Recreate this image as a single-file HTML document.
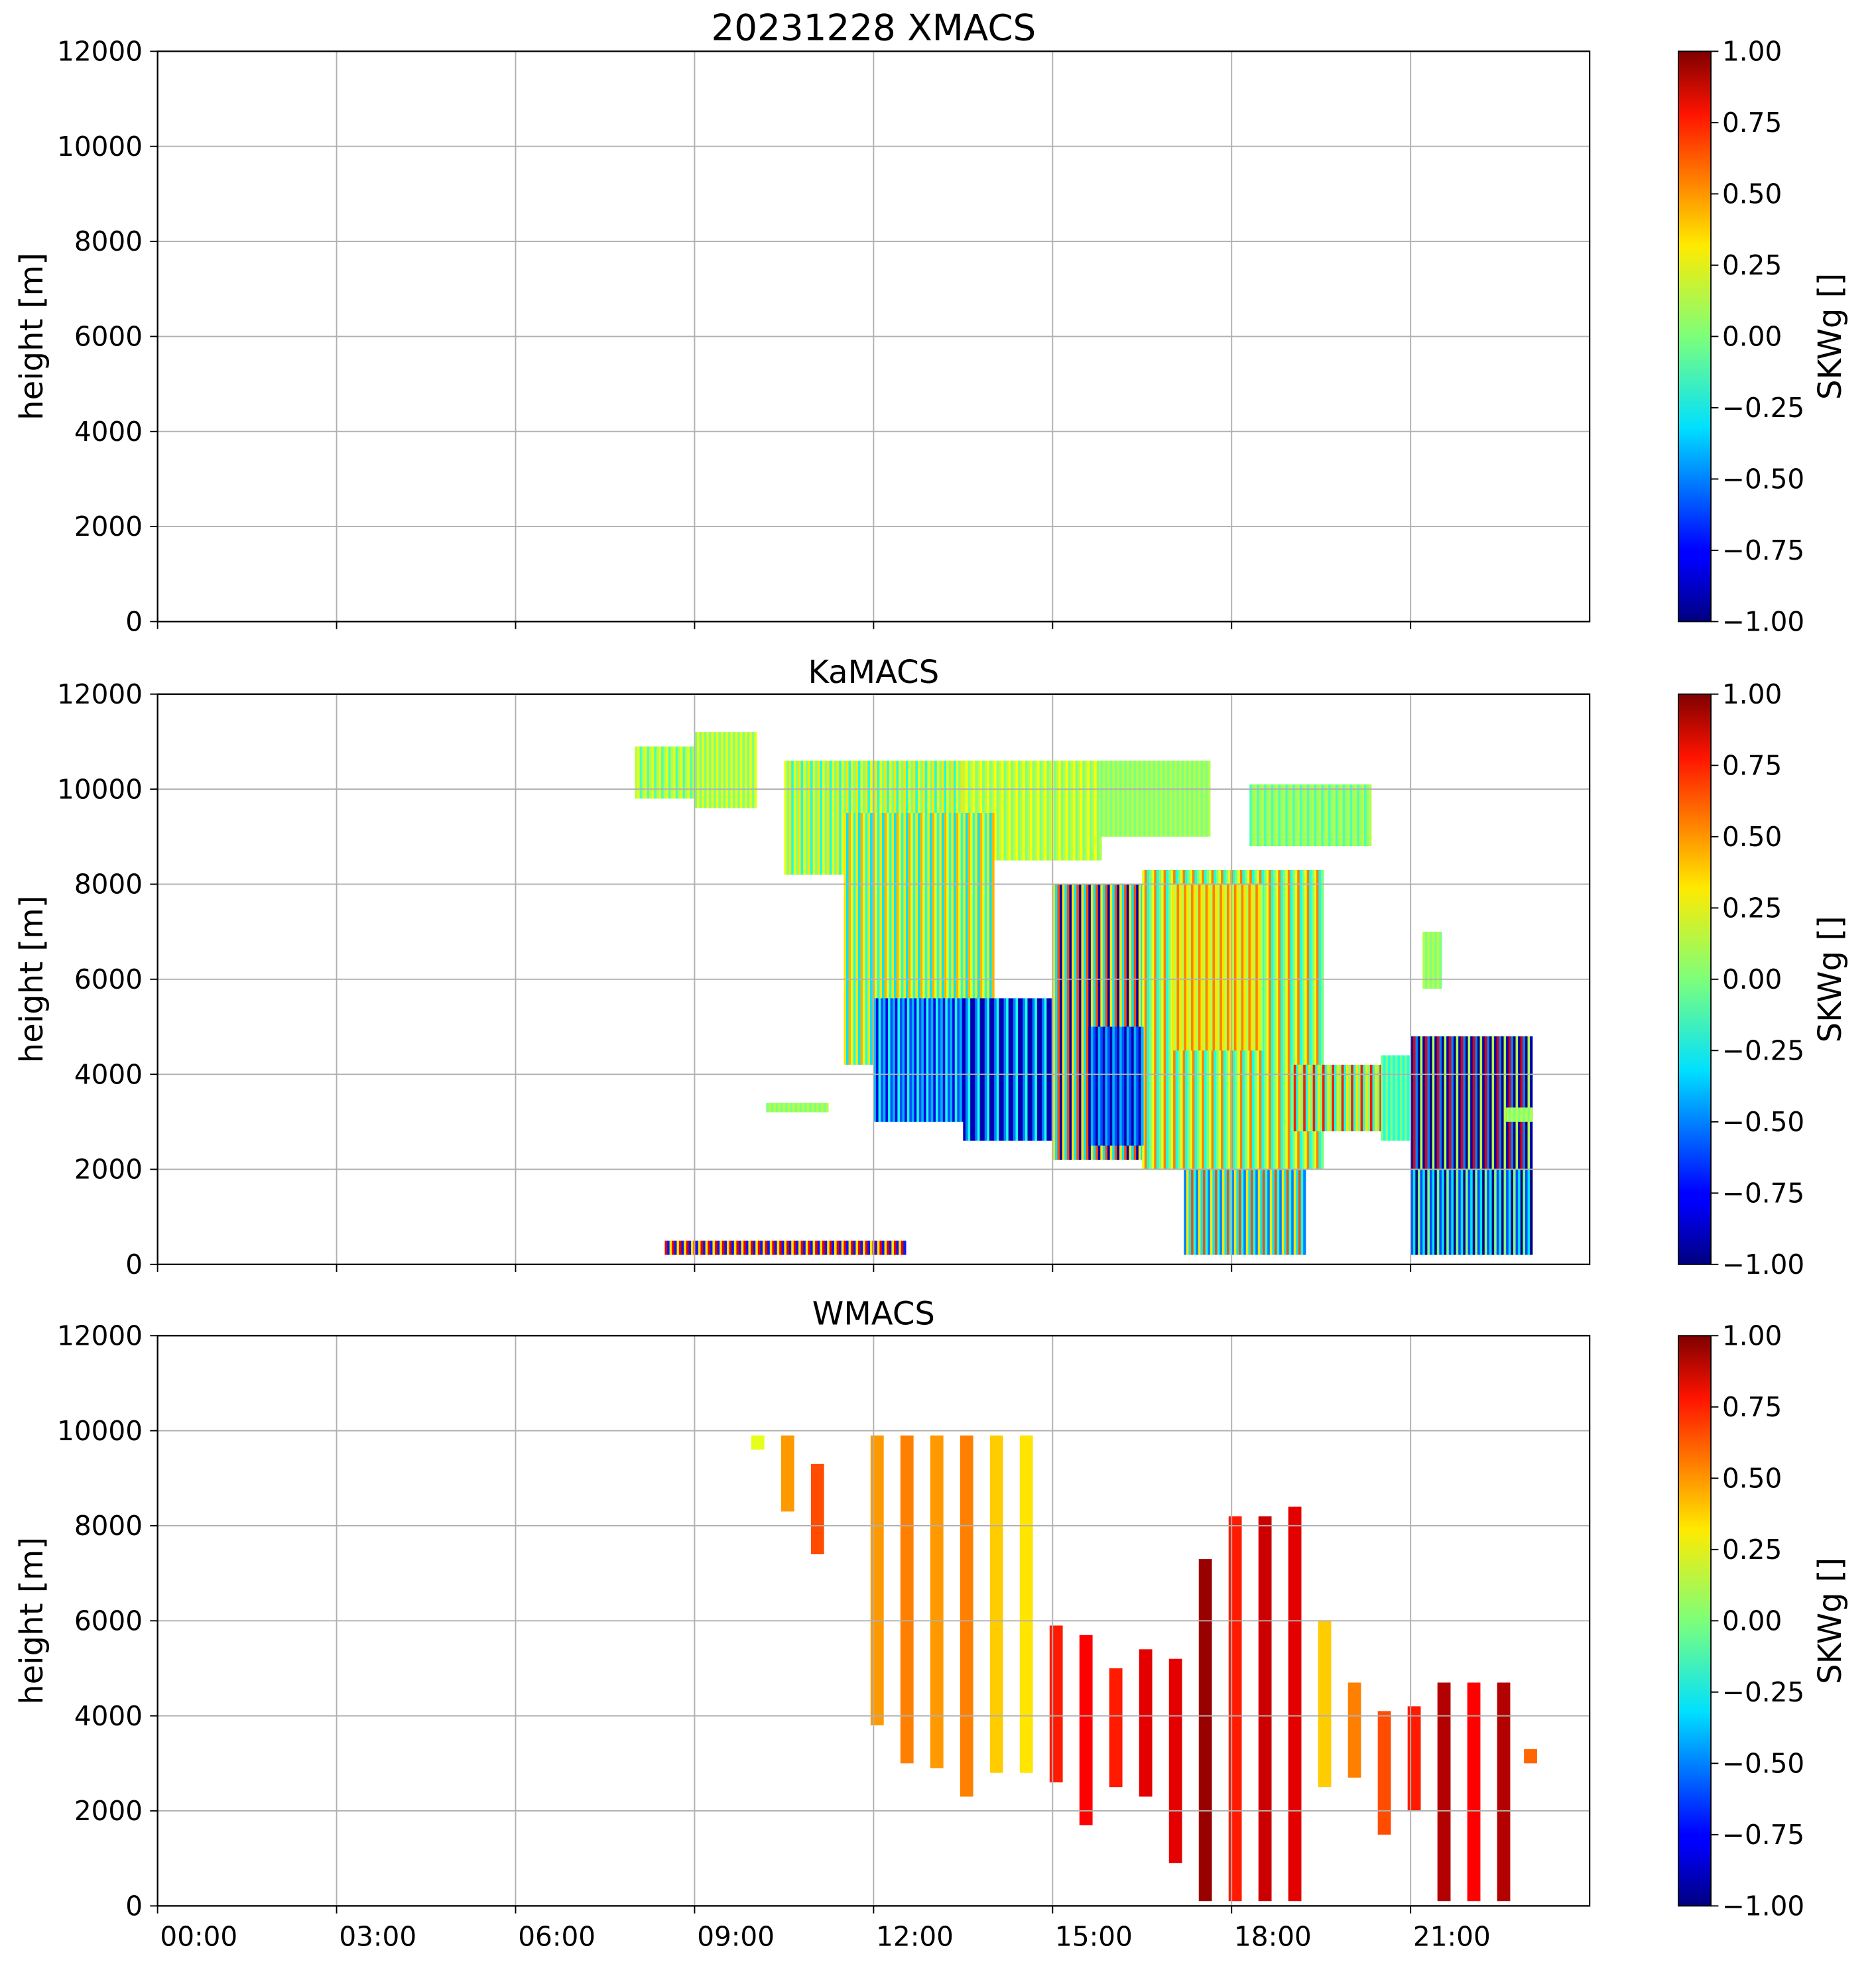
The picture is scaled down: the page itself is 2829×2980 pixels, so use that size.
<!DOCTYPE html>
<html><head><meta charset="utf-8"><style>
html,body{margin:0;padding:0;background:#fff}
svg{display:block}
text{font-family:"DejaVu Sans","Liberation Sans",sans-serif;fill:#000}
</style></head><body>
<svg id="fig" width="2829" height="2980" viewBox="0 0 1500 1580" xmlns="http://www.w3.org/2000/svg">
<defs>
<linearGradient id="jet" x1="0" y1="1" x2="0" y2="0">
<stop offset="0" stop-color="#00007f"/><stop offset="0.11" stop-color="#0000ff"/>
<stop offset="0.125" stop-color="#0000ff"/><stop offset="0.34" stop-color="#00e0ff"/>
<stop offset="0.5" stop-color="#7dff7a"/><stop offset="0.66" stop-color="#ffea00"/>
<stop offset="0.89" stop-color="#ff1300"/><stop offset="1" stop-color="#7f0000"/>
</linearGradient>
</defs>
<g id="plots"></g>
</svg>
<script>
// ---- data ----
const panelTitles = ["20231228 XMACS","KaMACS","WMACS"];
const xTickLabels = ["00:00","03:00","06:00","09:00","12:00","15:00","18:00","21:00"];
const xTickHours = [0,3,6,9,12,15,18,21];
const yTicks = [0,2000,4000,6000,8000,10000,12000];
const cbTicks = [-1,-0.75,-0.5,-0.25,0,0.25,0.5,0.75,1];
// KaMACS regions: start hour, end hour, bottom m, top m, values cycled across columns
const kaStart = [8.0,9.0,10.5,13.5,15.8,18.3,11.5,12.0,13.5,15.0,16.5,17.0,19.0,20.5,21.0,17.2,21.0,8.5,10.2,22.6,21.2,15.6];
const kaEnd   = [9.3,10.0,13.5,15.8,17.6,20.3,14.0,13.5,16.0,17.0,19.5,18.5,20.5,21.2,23.0,19.2,23.0,12.5,11.2,23.0,21.5,16.5];
const kaBot   = [9800,9600,8200,8500,9000,8800,4200,3000,2600,2200,2000,4500,2800,2600,2000,200,200,200,3200,3000,5800,2500];
const kaTop   = [10900,11200,10600,10600,10600,10100,9500,5600,5600,8000,8300,8000,4200,4400,4800,2000,2000,500,3400,3300,7000,5000];
const kaVals  = [[0.1,0.2,-0.1],[0.0,0.2],[0.2,0.0,0.3,-0.2],[0.1,0.25,0.0],[0.0,0.1],[-0.1,0.05,0.1],
  [0.3,-0.3,0.4,0.2,-0.2],[-0.4,-0.8,-0.2,-0.6],[-0.9,-0.5,-0.2,-0.9],[0.3,-0.3,0.6,-0.9],[0.2,0.5,-0.2,0.0],
  [0.3,0.1,0.5],[0.0,0.7,-0.2,0.3],[0.0,-0.2],[-0.9,0.8,-0.5,-1.0,0.1],[-0.5,0.3,-0.3,0.6,-0.2],[-0.6,-0.3,-1.0,0.0],
  [0.8,-0.7,0.3],[0.0,0.1],[0.1,0.0],[0.1,0.0],[-0.9,-0.4,-0.6]];
// WMACS stripes
const wTime = [11.95,12.45,12.95,13.45,13.95,14.45,14.95,15.45,15.95,16.45,16.95,17.45,17.95,18.45,18.95,19.45,19.95,20.45,20.95,21.45,21.95,22.45,10.45,10.95,9.95,22.9];
const wBot  = [3800,3000,2900,2300,2800,2800,2600,1700,2500,2300,900,100,100,100,100,2500,2700,1500,2000,100,100,100,8300,7400,9600,3000];
const wTop  = [9900,9900,9900,9900,9900,9900,5900,5700,5000,5400,5200,7300,8200,8200,8400,6000,4700,4100,4200,4700,4700,4700,9900,9300,9900,3300];
const wVal  = [0.45,0.5,0.45,0.5,0.35,0.3,0.7,0.75,0.7,0.8,0.8,0.95,0.7,0.85,0.8,0.35,0.5,0.6,0.7,0.9,0.75,0.9,0.45,0.6,0.2,0.55];
// ---- layout ----
const L=126,R=1271,tops=[41,555,1068],H=456,cbX=1342,cbW=26;
const svg=document.getElementById('plots');
const NS="http://www.w3.org/2000/svg";
function el(tag,attrs,txt){const e=document.createElementNS(NS,tag);for(const k in attrs)e.setAttribute(k,attrs[k]);if(txt!==undefined)e.textContent=txt;return e;}
function xS(h){return L+(R-L)*h/24;}
function yS(p,m){return tops[p]+H-H*m/12000;}
function jet(v){const t=(v+1)/2;const c=x=>Math.max(0,Math.min(1,x));
 const r=c(1.5-Math.abs(4*t-3)),g=c(1.5-Math.abs(4*t-2)),b=c(1.5-Math.abs(4*t-1));
 return `rgb(${Math.round(r*255)},${Math.round(g*255)},${Math.round(b*255)})`;}
for(let p=0;p<3;p++){
 const g=el('g',{});svg.appendChild(g);
 const data=el('g',{});g.appendChild(data);
 if(p===1){
  for(let i=0;i<kaStart.length;i++){
   const step=0.04;let k=0;
   for(let h=kaStart[i];h<kaEnd[i];h+=step,k++){
    const v=kaVals[i][k%kaVals[i].length];
    const r=el('rect',{x:xS(h),y:yS(1,kaTop[i]),width:xS(step)-xS(0)+0.3,height:yS(1,kaBot[i])-yS(1,kaTop[i]),fill:jet(v)});
    data.appendChild(r);
   }
  }
 }
 if(p===2){
  for(let i=0;i<wTime.length;i++){
   const r=el('rect',{x:xS(wTime[i]),y:yS(2,wTop[i]),width:xS(0.22)-xS(0),height:yS(2,wBot[i])-yS(2,wTop[i]),fill:jet(wVal[i])});
   data.appendChild(r);
  }
 }
 for(const h of xTickHours){const x=xS(h);g.appendChild(el('line',{x1:x,x2:x,y1:tops[p],y2:tops[p]+H,stroke:'#b0b0b0','stroke-width':1}));
  g.appendChild(el('line',{x1:x,x2:x,y1:tops[p]+H,y2:tops[p]+H+6,stroke:'#000','stroke-width':1}));}
 for(const m of yTicks){const y=yS(p,m);g.appendChild(el('line',{x1:L,x2:R,y1:y,y2:y,stroke:'#b0b0b0','stroke-width':1}));
  g.appendChild(el('line',{x1:L-6,x2:L,y1:y,y2:y,stroke:'#000','stroke-width':1}));
  const t=el('text',{x:L-12,y:y+7.5,'text-anchor':'end','font-size':21.5},String(m));g.appendChild(t);}
 const fr=el('rect',{x:L,y:tops[p],width:R-L,height:H,fill:'none',stroke:'#000','stroke-width':1.2});g.appendChild(fr);
 const tt=el('text',{x:(L+R)/2,y:tops[p]-9,'text-anchor':'middle','font-size':p===0?29:25.5},panelTitles[p]);g.appendChild(tt);
 const yl=el('text',{transform:`translate(34,${tops[p]+H/2}) rotate(-90)`,'text-anchor':'middle','font-size':25.5},'height [m]');g.appendChild(yl);
 if(p===2){xTickLabels.forEach((s,i)=>{const t=el('text',{x:xS(xTickHours[i])+2,y:tops[p]+H+32,'font-size':21.5},s);g.appendChild(t);});}
 const cb=el('rect',{x:cbX,y:tops[p],width:cbW,height:H,fill:'url(#jet)',stroke:'#000','stroke-width':1});g.appendChild(cb);
 for(const v of cbTicks){const y=tops[p]+H-H*(v+1)/2;
  g.appendChild(el('line',{x1:cbX+cbW,x2:cbX+cbW+6,y1:y,y2:y,stroke:'#000','stroke-width':1}));
  const t=el('text',{x:cbX+cbW+9,y:y+7.5,'font-size':21.5},(v<0?'\u2212':'')+Math.abs(v).toFixed(2));g.appendChild(t);}
 const cl=el('text',{transform:`translate(1472,${tops[p]+H/2}) rotate(-90)`,'text-anchor':'middle','font-size':25.5},'SKWg []');g.appendChild(cl);
}
</script>
</body></html>
